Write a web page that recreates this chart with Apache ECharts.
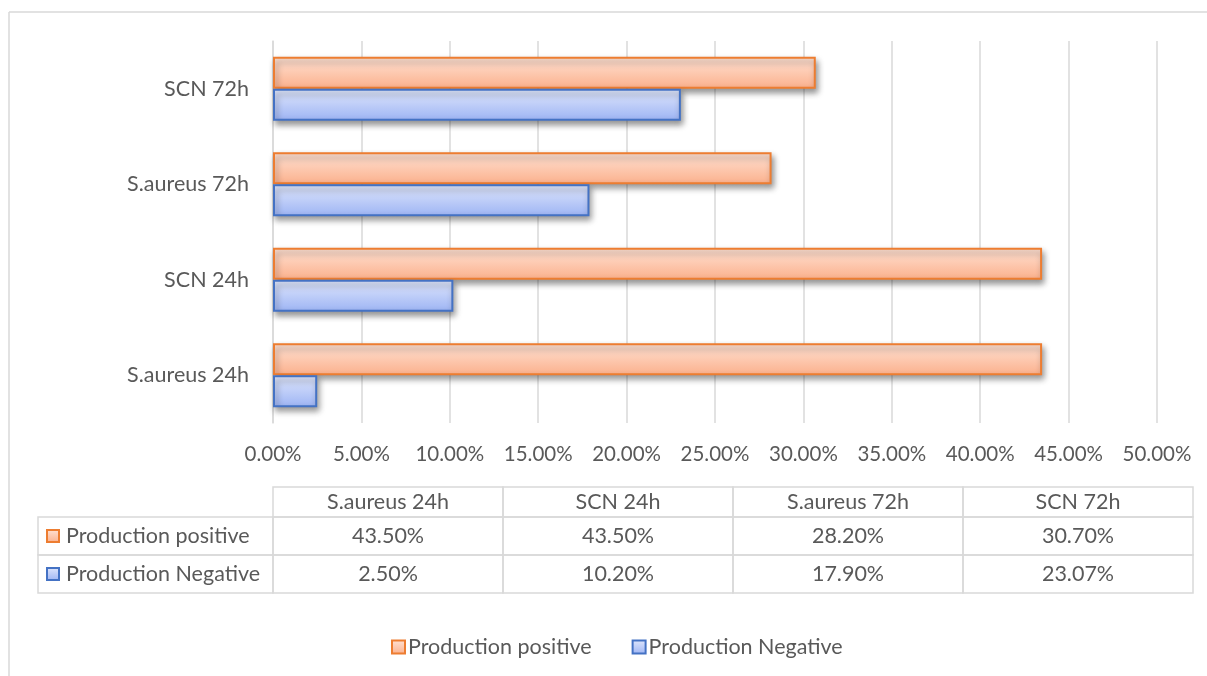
<!DOCTYPE html>
<html>
<head>
<meta charset="utf-8">
<script src="https://cdn.jsdelivr.net/npm/echarts@6/dist/echarts.min.js"></script>
<style>html,body{margin:0;padding:0;background:#fff;}#c{width:1207px;height:676px;}</style>
</head>
<body>
<div id="c"></div>
<script>
const categories = ['S.aureus 24h', 'SCN 24h', 'S.aureus 72h', 'SCN 72h'];
const seriesNames = ['Production positive', 'Production Negative'];
const positive = [43.5, 43.5, 28.2, 30.7];
const negative = [2.5, 10.2, 17.9, 23.07];
const xTicks = [0, 5, 10, 15, 20, 25, 30, 35, 40, 45, 50];

const FONT = 'Lato, "Open Sans", sans-serif';
const TXT = '#595959';
const LINE = '#d9d9d9';
const FS = 21.5;

const orangeFill = new echarts.graphic.LinearGradient(0, 0, 0, 1, [
  {offset: 0, color: '#ffe2d4'}, {offset: 1, color: '#fbb08c'}]);
const blueFill = new echarts.graphic.LinearGradient(0, 0, 0, 1, [
  {offset: 0, color: '#e0e7fc'}, {offset: 1, color: '#9db4f4'}]);
const ORANGE = '#ed7d31', BLUE = '#4472c4';

// Table layout
const tLeft = 273, colW = 230, tTop = 487, hdrH = 30, rowH = 38, labLeft = 38;
const g = [];
g.push({type: 'line', shape: {x1: 9, y1: 12, x2: 1207, y2: 12}, style: {stroke: LINE, lineWidth: 1.5}});
g.push({type: 'line', shape: {x1: 9, y1: 12, x2: 9, y2: 676}, style: {stroke: LINE, lineWidth: 1.5}});
categories.forEach((c, i) => {
  g.push({type: 'rect', shape: {x: tLeft + i * colW, y: tTop, width: colW, height: hdrH},
    style: {fill: 'none', stroke: LINE, lineWidth: 1.5}});
  g.push({type: 'text', x: tLeft + i * colW + colW / 2, y: tTop + hdrH / 2,
    style: {text: c, font: FS + 'px ' + FONT, fill: TXT, align: 'center', verticalAlign: 'middle'}});
});
const rows = [positive, negative];
const rowFills = [orangeFill, blueFill];
const rowStroke = [ORANGE, BLUE];
rows.forEach((vals, r) => {
  const y = tTop + hdrH + r * rowH;
  g.push({type: 'rect', shape: {x: labLeft, y: y, width: tLeft - labLeft, height: rowH},
    style: {fill: 'none', stroke: LINE, lineWidth: 1.5}});
  g.push({type: 'rect', shape: {x: 47, y: y + rowH / 2 - 6, width: 12, height: 12},
    style: {fill: rowFills[r], stroke: rowStroke[r], lineWidth: 2}});
  g.push({type: 'text', x: 66, y: y + rowH / 2,
    style: {text: seriesNames[r], font: FS + 'px ' + FONT, fill: TXT, align: 'left', verticalAlign: 'middle'}});
  vals.forEach((v, i) => {
    g.push({type: 'rect', shape: {x: tLeft + i * colW, y: y, width: colW, height: rowH},
      style: {fill: 'none', stroke: LINE, lineWidth: 1.5}});
    g.push({type: 'text', x: tLeft + i * colW + colW / 2, y: y + rowH / 2,
      style: {text: v.toFixed(2) + '%', font: FS + 'px ' + FONT, fill: TXT, align: 'center', verticalAlign: 'middle'}});
  });
});

const chart = echarts.init(document.getElementById('c'), null, {renderer: 'canvas'});
const barShadow = {shadowColor: 'rgba(0,0,0,0.4)', shadowBlur: 6, shadowOffsetX: 2, shadowOffsetY: 4};
chart.setOption({
  animation: false,
  backgroundColor: '#fff',
  textStyle: {fontFamily: FONT},
  grid: {left: 273, right: 50, top: 41, height: 382, containLabel: false},
  legend: {
    data: seriesNames, left: 386, top: 631, itemWidth: 13, itemHeight: 13, itemGap: 40,
    icon: 'rect', textStyle: {fontSize: FS, color: TXT, fontFamily: FONT, padding: [0, 0, 0, -2]}
  },
  xAxis: {
    type: 'value', min: 0, max: 50, interval: 5,
    axisLine: {show: false}, axisTick: {show: false},
    splitLine: {lineStyle: {color: LINE, width: 1.5}},
    axisLabel: {fontSize: 20.5, color: TXT, margin: 21, fontFamily: FONT,
      formatter: v => v.toFixed(2) + '%'}
  },
  yAxis: {
    type: 'category', data: categories,
    axisLine: {lineStyle: {color: LINE, width: 1.5}}, axisTick: {show: false},
    axisLabel: {fontSize: FS, color: TXT, margin: 24, fontFamily: FONT}
  },
  series: [
    {name: seriesNames[0], type: 'bar', data: positive, barGap: '0%', barCategoryGap: '33%',
      itemStyle: Object.assign({color: orangeFill, borderColor: ORANGE, borderWidth: 2}, barShadow)},
    {name: seriesNames[1], type: 'bar', data: negative, barGap: '0%', barCategoryGap: '33%',
      itemStyle: Object.assign({color: blueFill, borderColor: BLUE, borderWidth: 2}, barShadow)}
  ],
  graphic: g
});
</script>
</body>
</html>
